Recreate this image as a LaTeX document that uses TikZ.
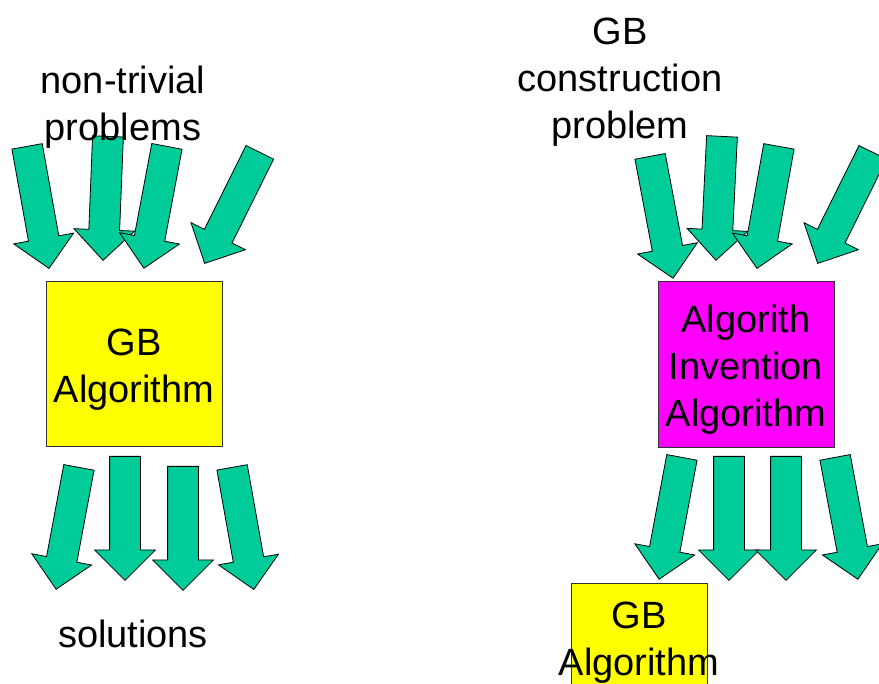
\documentclass[tikz,border=0pt]{standalone}
\usepackage{fontspec}
\setmainfont{Liberation Sans}
\usetikzlibrary{shapes.arrows,positioning,calc}
\definecolor{arrowgreen}{RGB}{0,204,153}
\definecolor{gbyellow}{RGB}{255,255,0}
\definecolor{gbmagenta}{RGB}{255,0,255}
\tikzstyle{fat}=[single arrow, draw=black, fill=arrowgreen, line width=0.8pt,
  minimum height=124pt, single arrow head extend=15pt,
  inner xsep=0pt, inner ysep=15pt, anchor=tail]
\tikzstyle{box}=[rectangle, draw=black!80, line width=0.8pt, inner sep=0pt]
\tikzstyle{txt}=[inner sep=0pt, align=center, font=\fontsize{38}{47}\selectfont]

\begin{document}
\begin{tikzpicture}[x=1pt, y=-1pt]
  \useasboundingbox (0,0) rectangle (879,684);
  \clip (0,0) rectangle (879,684);

  % left column
  \node [fat, rotate=-79.8]  (a1) at (27,146) {};
  \node [fat, rotate=-92.3]  (a2) at (108,136) {};
  \node [fat, rotate=-100.7] (a3) at (167,146) {};
  \node [fat, rotate=-116.4] (a4) at (260,152) {};
  \node [box, fill=gbyellow, minimum width=176pt, minimum height=165pt]
    (gb) at (134,363.5) {};
  \node [txt] (gbt) at ([yshift=-6pt]gb.center) {GB\\Algorithm};
  \node [fat, rotate=-100.6] (b1) at (79,467) {};
  \node [fat, rotate=-90]    (b2) at (125,456) {};
  \node [fat, rotate=-90]    (b3) at (183,466) {};
  \node [fat, rotate=-79.9]  (b4) at (232,467) {};
  \node [txt] (prob) at (123,107) {non-trivial\\problems};
  \node [txt, anchor=base] (sol) at (133,647) {solutions};

  % right column
  \node [fat, rotate=-79.3]  (c1) at (650,156) {};
  \node [fat, rotate=-92.8]  (c2) at (722,136) {};
  \node [fat, rotate=-100.2] (c3) at (779,146) {};
  \node [fat, rotate=-116.4] (c4) at (873,152) {};
  \node [box, fill=gbmagenta, minimum width=176pt, minimum height=166pt]
    (aia) at (746,364) {};
  \node [txt] (aiat) at ([yshift=-6pt]aia.center) {Algorith\\Invention\\Algorithm};
  \node [fat, rotate=-100.6] (d1) at (682,457) {};
  \node [fat, rotate=-90]    (d2) at (729,456) {};
  \node [fat, rotate=-90]    (d3) at (786,456) {};
  \node [fat, rotate=-79.4]  (d4) at (835,457) {};
  \node [box, fill=gbyellow, minimum width=136pt, minimum height=120pt]
    (gb2) at (639,643) {};
  \node [txt] (gb2t) at (gb2.center) {GB\\Algorithm};
  \node [txt] (cons) at (620,82.5) {GB\\construction\\problem};
\end{tikzpicture}
\end{document}
